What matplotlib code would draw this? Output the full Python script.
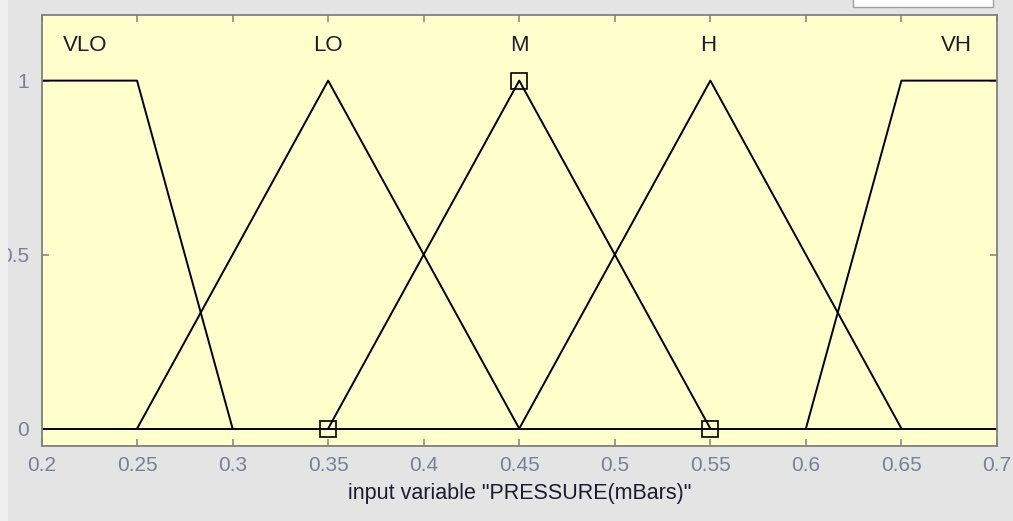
import matplotlib
matplotlib.use("Agg")
import matplotlib.pyplot as plt
from matplotlib.patches import Rectangle

plt.rcParams["font.family"] = ["Liberation Sans", "DejaVu Sans"]

# membership functions of the input variable, given as (a, b, c, d) trapezoids;
# triangles have b == c
mf_names = ["VLO", "LO", "M", "H", "VH"]
mf_params = [
    (0.15, 0.2, 0.25, 0.3),
    (0.25, 0.35, 0.35, 0.45),
    (0.35, 0.45, 0.45, 0.55),
    (0.45, 0.55, 0.55, 0.65),
    (0.6, 0.65, 0.7, 0.75),
]
label_x = [0.223, 0.35, 0.45, 0.549, 0.679]
label_y = 1.10
selected = 2  # "M" is highlighted with its vertices

x_range = (0.2, 0.7)
x_ticks = [0.2, 0.25, 0.3, 0.35, 0.4, 0.45, 0.5, 0.55, 0.6, 0.65, 0.7]
x_ticklabels = ["0.2", "0.25", "0.3", "0.35", "0.4", "0.45", "0.5", "0.55", "0.6", "0.65", "0.7"]
y_ticks = [0, 0.5, 1]
y_ticklabels = ["0", "0.5", "1"]
xlabel = 'input variable "PRESSURE(mBars)"'


def trap_points(a, b, c, d, lo, hi):
    xs = [a, b, c, d] if b != c else [a, b, d]
    ys = [0, 1, 1, 0] if b != c else [0, 1, 0]
    pts = [(x, y) for x, y in zip(xs, ys)]
    # clip to the variable range
    out = []
    for (x0, y0), (x1, y1) in zip(pts[:-1], pts[1:]):
        for x, y in ((x0, y0), (x1, y1)):
            if x < lo:
                y = y0 + (y1 - y0) * (lo - x0) / (x1 - x0)
                x = lo
            elif x > hi:
                y = y0 + (y1 - y0) * (hi - x0) / (x1 - x0)
                x = hi
            if not out or out[-1] != (x, y):
                out.append((x, y))
    return [p[0] for p in out], [p[1] for p in out]


fig = plt.figure(figsize=(10.13, 5.21), dpi=100, facecolor="#e4e4e4")
fig.patches.append(Rectangle((0, 0), 8 / 1013, 1, transform=fig.transFigure,
                             facecolor="#efefef", edgecolor="none", zorder=0))
fig.patches.append(Rectangle((853 / 1013, 514 / 521), 140 / 1013, 10 / 521,
                             transform=fig.transFigure, facecolor="white",
                             edgecolor="#a0a0a0", linewidth=1.0, zorder=0))

ax = fig.add_axes([41.5 / 1013, 75 / 521, 955.5 / 1013, 431.5 / 521])
ax.set_facecolor("#ffffcc")

ax.plot(x_range, [0, 0], color="black", lw=1.4)
for name, p in zip(mf_names, mf_params):
    xs, ys = trap_points(*p, *x_range)
    ax.plot(xs, ys, color="black", lw=1.4)

a, b, c, d = mf_params[selected]
ax.plot([a, b, d], [0, 1, 0], linestyle="none", marker="s", markersize=11,
        markerfacecolor="none", markeredgecolor="black", markeredgewidth=1.2)

for name, lx in zip(mf_names, label_x):
    ax.text(lx, label_y, name, ha="center", va="center", fontsize=16, color="#1c1c30")

ax.set_xlim(*x_range)
ax.set_ylim(-0.05, 1.19)
ax.set_xticks(x_ticks)
ax.set_xticklabels(x_ticklabels)
ax.set_yticks(y_ticks)
ax.set_yticklabels(y_ticklabels)

ax.tick_params(axis="both", direction="in", length=5, width=1.1, color="#808080",
               labelsize=15, labelcolor="#7a8098", top=True, right=True)
ax.tick_params(axis="x", pad=7)
ax.tick_params(axis="y", pad=9)
for s in ax.spines.values():
    s.set_color("#808080")
    s.set_linewidth(1.3)

ax.set_xlabel(xlabel, fontsize=15.5, color="#1c1c30", labelpad=6)

fig.savefig("out.png", dpi=100, facecolor=fig.get_facecolor())
